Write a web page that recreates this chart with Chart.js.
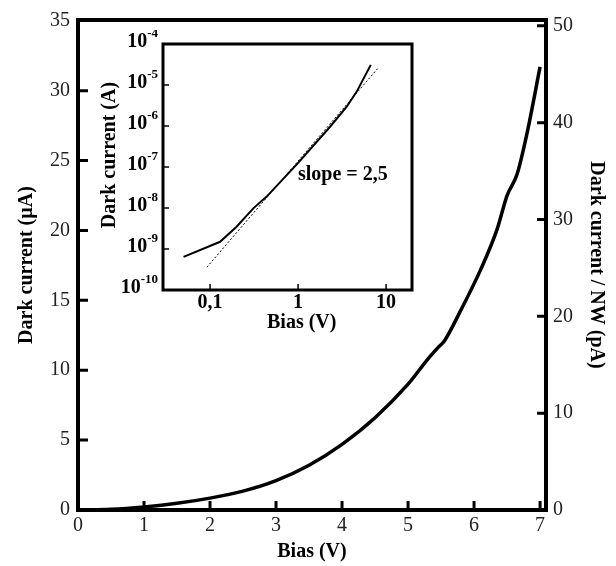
<!DOCTYPE html>
<html>
<head>
<meta charset="utf-8">
<script src="https://cdn.jsdelivr.net/npm/chart.js@4"></script>
<style>
  html, body { margin: 0; padding: 0; background: #ffffff; }
  #wrap { position: relative; width: 616px; height: 566px; }
  #mainChart { position: absolute; left: 0; top: 0; }
  #insetChart { position: absolute; left: 90px; top: 30px; }
</style>
</head>
<body>
<div id="wrap">
  <canvas id="mainChart" width="616" height="566"></canvas>
  <canvas id="insetChart" width="350" height="310"></canvas>
</div>
<script>
// main plot: dark current vs bias (linear)
const biasV = [0, 0.5, 1.0, 1.5, 2.0, 2.5, 3.0, 3.5, 4.0, 4.5, 5.0, 5.3, 5.45, 5.55, 5.8, 6.1, 6.35, 6.5, 6.65, 6.8, 7.0];
const darkCurrentUA = [0, 0.05, 0.22, 0.48, 0.85, 1.35, 2.1, 3.2, 4.7, 6.6, 9.0, 10.8, 11.6, 12.1, 14.3, 17.2, 20.1, 22.5, 24.0, 26.9, 31.7];
const biasTicks = [0, 1, 2, 3, 4, 5, 6, 7];
const currentTicks = [0, 5, 10, 15, 20, 25, 30, 35];
const perWireTicks = [0, 10, 20, 30, 40, 50];

// inset: log-log
const insetBiasV = [0.05, 0.13, 0.2, 0.31, 0.44, 0.99, 2.31, 3.57, 4.64, 6.7];
const insetCurrentA = [6.4e-10, 1.5e-9, 3.5e-9, 9.8e-9, 1.9e-8, 1.23e-7, 9.6e-7, 2.95e-6, 6.9e-6, 3.1e-5];
const slopeBiasV = [0.092, 8.0];
const slopeCurrentA = [3.6e-10, 2.5e-5];
const insetBiasTicks = [0.1, 1, 10];
const insetBiasLabels = ['0,1', '1', '10'];
const insetExponents = [-4, -5, -6, -7, -8, -9, -10];

const serif = "'Liberation Serif', 'Times New Roman', serif";

function drawInwardTicks(chart, scaleId, values, len, width) {
  const s = chart.scales[scaleId];
  const a = chart.chartArea;
  const ctx = chart.ctx;
  ctx.save();
  ctx.strokeStyle = '#000';
  ctx.lineWidth = width;
  ctx.beginPath();
  values.forEach(v => {
    const p = s.getPixelForValue(v);
    if (s.position === 'left') { ctx.moveTo(a.left, p); ctx.lineTo(a.left + len, p); }
    else if (s.position === 'right') { ctx.moveTo(a.right, p); ctx.lineTo(a.right - len, p); }
    else { ctx.moveTo(p, a.bottom); ctx.lineTo(p, a.bottom - len); }
  });
  ctx.stroke();
  ctx.restore();
}

function drawFrame(chart, width) {
  const a = chart.chartArea;
  const ctx = chart.ctx;
  ctx.save();
  ctx.strokeStyle = '#000';
  ctx.lineWidth = width;
  ctx.strokeRect(a.left, a.top, a.right - a.left, a.bottom - a.top);
  ctx.restore();
}

const mainDecor = {
  id: 'mainDecor',
  afterDraw(chart) {
    drawFrame(chart, 4);
    drawInwardTicks(chart, 'y', currentTicks.slice(1, -1), 10, 3);
    drawInwardTicks(chart, 'y2', perWireTicks.slice(1), 9, 3);
    drawInwardTicks(chart, 'x', biasTicks.slice(1), 9, 3);
  }
};

const insetDecor = {
  id: 'insetDecor',
  afterDraw(chart) {
    const ctx = chart.ctx;
    const a = chart.chartArea;
    const ys = chart.scales.y;
    drawFrame(chart, 3);
    drawInwardTicks(chart, 'y', insetExponents.slice(1, -1).map(e => Math.pow(10, e)), 6, 1.5);
    drawInwardTicks(chart, 'x', insetBiasTicks, 6, 1.5);

    ctx.save();
    ctx.fillStyle = '#000';
    ctx.textBaseline = 'middle';
    insetExponents.forEach(e => {
      const py = ys.getPixelForValue(Math.pow(10, e));
      ctx.font = 'bold 13px ' + serif;
      ctx.textAlign = 'right';
      const expText = String(e);
      const expW = ctx.measureText(expText).width;
      ctx.fillText(expText, a.left - 5, py - 10);
      ctx.font = 'bold 20px ' + serif;
      ctx.fillText('10', a.left - 5 - expW, py - 2);
    });

    ctx.font = 'bold 20px ' + serif;
    ctx.textAlign = 'center';
    ctx.fillText('Bias (V)', chart.scales.x.getPixelForValue(1.1), 293);

    ctx.textAlign = 'left';
    ctx.fillText('slope = 2,5', 208, 145);

    ctx.translate(20, 125);
    ctx.rotate(-Math.PI / 2);
    ctx.textAlign = 'center';
    ctx.fillText('Dark current (A)', 0, 0);
    ctx.restore();
  }
};

new Chart(document.getElementById('mainChart'), {
  type: 'scatter',
  data: {
    datasets: [{
      data: biasV.map((v, i) => ({ x: v, y: darkCurrentUA[i] })),
      showLine: true,
      borderColor: '#000',
      borderWidth: 3.5,
      pointRadius: 0,
      cubicInterpolationMode: 'monotone',
      fill: false
    }]
  },
  options: {
    responsive: false,
    animation: false,
    devicePixelRatio: 1,
    layout: { padding: { top: 16, left: 0, right: 0, bottom: 0 } },
    plugins: { legend: { display: false }, tooltip: { enabled: false } },
    scales: {
      x: {
        type: 'linear',
        position: 'bottom',
        min: 0,
        max: 7.09,
        afterBuildTicks: s => { s.ticks = biasTicks.map(v => ({ value: v })); },
        afterFit: s => { s.height = 56; },
        grid: { display: false, drawTicks: false },
        border: { display: false },
        ticks: { color: '#222', font: { family: serif, size: 20 }, padding: 4, maxRotation: 0 },
        title: { display: true, text: 'Bias (V)', color: '#000', font: { family: serif, size: 20, weight: 'bold' }, padding: { top: 0, bottom: 2 } }
      },
      y: {
        type: 'linear',
        position: 'left',
        min: 0,
        max: 35.06,
        afterBuildTicks: s => { s.ticks = currentTicks.map(v => ({ value: v })); },
        afterFit: s => { s.width = 78; },
        grid: { display: false, drawTicks: false },
        border: { display: false },
        ticks: { color: '#222', font: { family: serif, size: 20 }, padding: 8 },
        title: { display: true, text: 'Dark current (µA)', color: '#000', font: { family: serif, size: 20, weight: 'bold' }, padding: { top: 15, bottom: 0 } }
      },
      y2: {
        type: 'linear',
        position: 'right',
        min: 0,
        max: 50.6,
        afterBuildTicks: s => { s.ticks = perWireTicks.map(v => ({ value: v })); },
        afterFit: s => { s.width = 70; },
        grid: { display: false, drawTicks: false },
        border: { display: false },
        ticks: { color: '#222', font: { family: serif, size: 20 }, padding: 7 },
        title: { display: true, text: 'Dark current / NW (pA)', color: '#000', font: { family: serif, size: 20, weight: 'bold' }, padding: { top: 8, bottom: 0 } }
      }
    }
  },
  plugins: [mainDecor]
});

new Chart(document.getElementById('insetChart'), {
  type: 'scatter',
  data: {
    datasets: [
      {
        data: insetBiasV.map((v, i) => ({ x: v, y: insetCurrentA[i] })),
        showLine: true,
        borderColor: '#000',
        borderWidth: 2,
        pointRadius: 0,
        tension: 0,
        fill: false
      },
      {
        data: slopeBiasV.map((v, i) => ({ x: v, y: slopeCurrentA[i] })),
        showLine: true,
        borderColor: '#000',
        borderWidth: 1,
        borderDash: [2, 2],
        pointRadius: 0,
        fill: false
      }
    ]
  },
  options: {
    responsive: false,
    animation: false,
    devicePixelRatio: 1,
    layout: { padding: { top: 14, left: 0, right: 28, bottom: 0 } },
    plugins: { legend: { display: false }, tooltip: { enabled: false } },
    scales: {
      x: {
        type: 'logarithmic',
        min: 0.0292,
        max: 19.7,
        afterBuildTicks: s => { s.ticks = insetBiasTicks.map(v => ({ value: v })); },
        afterFit: s => { s.height = 50; },
        grid: { display: false, drawTicks: false },
        border: { display: false },
        ticks: {
          color: '#000',
          font: { family: serif, size: 20, weight: 'bold' },
          padding: 1,
          maxRotation: 0,
          callback: (v) => insetBiasLabels[insetBiasTicks.indexOf(v)]
        }
      },
      y: {
        type: 'logarithmic',
        min: 1e-10,
        max: 1e-4,
        afterFit: s => { s.width = 73; },
        grid: { display: false, drawTicks: false },
        border: { display: false },
        ticks: { display: false }
      }
    }
  },
  plugins: [insetDecor]
});
</script>
</body>
</html>
